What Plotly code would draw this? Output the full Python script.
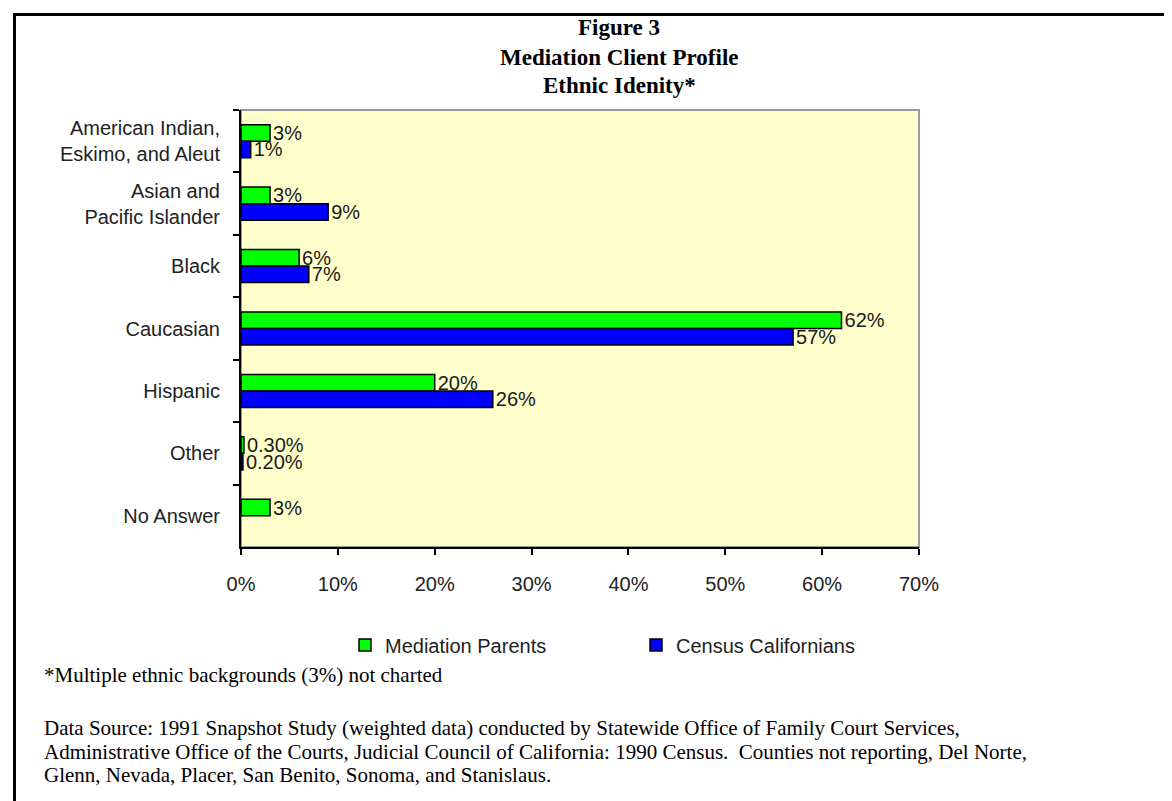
import plotly.graph_objects as go

categories = [
    "American Indian,<br>Eskimo, and Aleut",
    "Asian and<br>Pacific Islander",
    "Black",
    "Caucasian",
    "Hispanic",
    "Other",
    "No Answer",
]
mediation_parents = [3, 3, 6, 62, 20, 0.3, 3]
census_californians = [1, 9, 7, 57, 26, 0.2, None]
mediation_labels = ["3%", "3%", "6%", "62%", "20%", "0.30%", "3%"]
census_labels = ["1%", "9%", "7%", "57%", "26%", "0.20%", ""]

x_ticks = [0, 10, 20, 30, 40, 50, 60, 70]
x_tick_labels = ["0%", "10%", "20%", "30%", "40%", "50%", "60%", "70%"]

title_lines = ["Figure 3", "Mediation Client Profile", "Ethnic Idenity*"]
footnote = "*Multiple ethnic backgrounds (3%) not charted"
source_lines = [
    "Data Source: 1991 Snapshot Study (weighted data) conducted by Statewide Office of Family Court Services,",
    "Administrative Office of the Courts, Judicial Council of California: 1990 Census.  Counties not reporting, Del Norte,",
    "Glenn, Nevada, Placer, San Benito, Sonoma, and Stanislaus.",
]

W, H = 1172, 801
L, R, T, B = 233, 911, 102, 539

def px_x(p):
    return (p - L) / (R - L)

def px_y(p):
    return (B - p) / (B - T)

sans = "Liberation Sans, Arial, sans-serif"
serif = "Liberation Serif, Times New Roman, serif"

fig = go.Figure()
fig.add_trace(go.Bar(
    y=categories, x=mediation_parents, orientation="h", name="Mediation Parents",
    marker=dict(color="#00FF00", line=dict(color="black", width=1.5)),
    text=mediation_labels, textposition="outside", cliponaxis=False, constraintext="none",
    textfont=dict(family=sans, size=20, color="#1a1a1a"),
))
fig.add_trace(go.Bar(
    y=categories, x=census_californians, orientation="h", name="Census Californians",
    marker=dict(color="#0000FF", line=dict(color="black", width=1.5)),
    text=census_labels, textposition="outside", cliponaxis=False, constraintext="none",
    textfont=dict(family=sans, size=20, color="#1a1a1a"),
))

annotations = []
for i, line in enumerate(title_lines):
    annotations.append(dict(
        text=f"<b>{line}</b>", x=px_x(611), xref="paper", y=px_y(20 + 29 * i), yref="paper",
        xanchor="center", yanchor="middle", showarrow=False,
        font=dict(family=serif, size=23, color="black"),
    ))
annotations.append(dict(
    text=footnote, x=px_x(34), xref="paper", y=px_y(667), yref="paper",
    xanchor="left", yanchor="middle", showarrow=False,
    font=dict(family=serif, size=21, color="black"),
))
for i, line in enumerate(source_lines):
    annotations.append(dict(
        text=line, x=px_x(34), xref="paper", y=px_y(720 + 23.5 * i), yref="paper",
        xanchor="left", yanchor="middle", showarrow=False,
        font=dict(family=serif, size=21, color="black"),
    ))

shapes = [
    # grey frame round the plot area (top / right show)
    dict(type="rect", xref="paper", yref="paper", x0=0, x1=1, y0=0, y1=1,
         line=dict(color="#9a9a9a", width=2), layer="below"),
    # page border, left and top
    dict(type="line", xref="paper", yref="paper", x0=px_x(6.5), x1=px_x(6.5), y0=px_y(6), y1=px_y(H + 5),
         line=dict(color="black", width=3)),
    dict(type="line", xref="paper", yref="paper", x0=px_x(5), x1=px_x(W + 5), y0=px_y(6.5), y1=px_y(6.5),
         line=dict(color="black", width=3)),
]

fig.update_layout(
    width=W, height=H,
    margin=dict(l=L, r=W - R, t=T, b=H - B),
    paper_bgcolor="white", plot_bgcolor="#FFFFCC",
    barmode="group", bargap=0.47, bargroupgap=0,
    font=dict(family=sans, size=20, color="#222222"),
    showlegend=True,
    legend=dict(
        orientation="h", x=px_x(337), y=px_y(637), xanchor="left", yanchor="middle",
        entrywidth=246, entrywidthmode="pixels",
        font=dict(family=sans, size=20, color="#222222"),
        bgcolor="rgba(0,0,0,0)", traceorder="normal",
    ),
    annotations=annotations,
    shapes=shapes,
)
fig.update_xaxes(
    range=[0, 70], tickvals=x_ticks, ticktext=x_tick_labels, showgrid=False, zeroline=False,
    showline=True, linecolor="black", linewidth=2,
    ticks="outside", ticklen=6, tickwidth=2, tickcolor="black", ticklabelstandoff=12,
    tickfont=dict(family=sans, size=20, color="#222222"),
)
fig.update_yaxes(
    autorange="reversed", showgrid=False, zeroline=False,
    showline=True, linecolor="black", linewidth=2,
    ticks="outside", tickson="boundaries", ticklen=6, tickwidth=2, tickcolor="black",
    ticklabelstandoff=15,
    tickfont=dict(family=sans, size=20, color="#222222"),
)

fig.write_html("out.html")
